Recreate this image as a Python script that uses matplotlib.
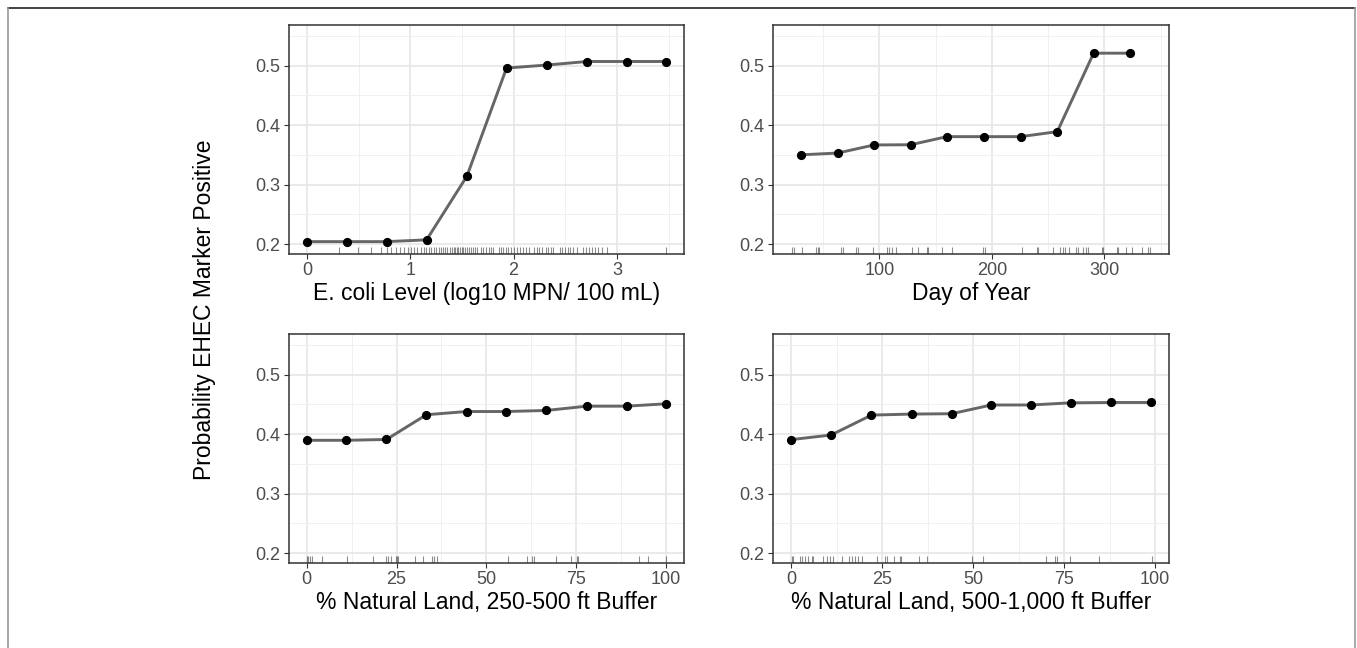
import matplotlib
matplotlib.use("Agg")
import matplotlib.pyplot as plt
from matplotlib.lines import Line2D
from matplotlib.ticker import FixedLocator, FormatStrFormatter

plt.rcParams['font.family'] = ['Liberation Sans', 'DejaVu Sans']

# ---------------- data ----------------
ecoli_x = [0.0, 0.384, 0.771, 1.158, 1.548, 1.932, 2.319, 2.71, 3.097, 3.477]
ecoli_y = [0.204, 0.204, 0.204, 0.207, 0.314, 0.496, 0.501, 0.507, 0.507, 0.507]
ecoli_rug = [0.306, 0.493, 0.622, 0.719, 0.774, 0.816, 0.861, 0.903, 0.942, 0.977,
             1.01, 1.04, 1.07, 1.10, 1.13, 1.15, 1.18, 1.20, 1.23, 1.25, 1.28, 1.30,
             1.32, 1.34, 1.36, 1.38, 1.40, 1.42, 1.43, 1.45, 1.46, 1.48, 1.50, 1.51,
             1.53, 1.55, 1.57, 1.59, 1.61, 1.63, 1.65, 1.68, 1.70, 1.73, 1.76, 1.78,
             1.80, 1.86, 1.88, 1.90, 1.93, 1.95, 1.98, 2.00, 2.03, 2.06, 2.09, 2.12,
             2.15, 2.20, 2.23, 2.25, 2.28, 2.31, 2.33, 2.36, 2.38, 2.45, 2.47, 2.50,
             2.53, 2.55, 2.58, 2.61, 2.67, 2.70, 2.73, 2.76, 2.79, 2.82, 2.86, 2.90,
             3.48]

day_x = [30.1, 63.0, 95.3, 127.9, 160.1, 193.3, 225.6, 258.2, 290.5, 323.1]
day_y = [0.350, 0.353, 0.3666, 0.367, 0.3806, 0.3806, 0.3806, 0.389, 0.521, 0.521]
day_rug = [22.1, 24.2, 31.0, 43.5, 45.2, 46.7, 65.7, 67.5, 79.3, 81.3, 94.1, 106.5,
           108.6, 111.0, 114.8, 128.8, 134.7, 142.1, 143.6, 155.5, 164.3, 192.4,
           193.9, 226.6, 239.9, 241.4, 254.1, 260.6, 263.0, 265.1, 268.9, 274.8,
           276.9, 281.3, 283.7, 285.2, 297.7, 299.1, 311.0, 312.4, 319.3, 324.3,
           333.2, 338.6, 340.6]

nat250_x = [0.0, 11.04, 22.2, 33.3, 44.5, 55.5, 66.7, 77.9, 89.0, 100.0]
nat250_y = [0.3896, 0.3896, 0.391, 0.4326, 0.438, 0.438, 0.4398, 0.447, 0.447, 0.451]
nat250_rug = [0.0, 0.46, 0.93, 1.39, 4.2, 11.3, 18.5, 22.0, 22.7, 23.5, 24.9, 25.2,
              25.5, 30.0, 32.3, 34.8, 35.5, 36.2, 56.1, 61.2, 62.8, 63.3, 69.3,
              73.6, 75.1, 75.6, 92.6, 94.9, 100.0]

nat500_x = [0.0, 11.0, 22.1, 33.1, 44.1, 55.0, 65.9, 76.8, 87.8, 98.9]
nat500_y = [0.3907, 0.3985, 0.432, 0.4337, 0.4343, 0.449, 0.449, 0.4526, 0.4532, 0.4532]
nat500_rug = [0.18, 0.64, 2.47, 3.1, 3.85, 4.58, 5.68, 6.1, 8.9, 9.8, 10.7, 11.6,
              13.9, 15.9, 16.7, 17.6, 18.5, 19.4, 23.5, 25.8, 26.3, 28.3, 29.8,
              30.2, 35.2, 37.3, 49.6, 52.6, 70.1, 72.5, 73.0, 76.6, 84.7, 99.1]

x_titles = ["E. coli Level (log10 MPN/ 100 mL)", "Day of Year",
            "% Natural Land, 250-500 ft Buffer", "% Natural Land, 500-1,000 ft Buffer"]
y_title = "Probability EHEC Marker Positive"

y_ticks = [0.2, 0.3, 0.4, 0.5]
y_minor = [0.25, 0.35, 0.45, 0.55]

# ---------------- figure ----------------
W, H = 1357, 648
fig = plt.figure(figsize=(W / 100, H / 100), dpi=100)

def rect(x0, x1, ytop, ybot):
    return [x0 / W, 1 - ybot / H, (x1 - x0) / W, (ybot - ytop) / H]

panels = [
    dict(pos=rect(289, 684, 25, 254), x=ecoli_x, y=ecoli_y, rug=ecoli_rug,
         xlim=(-0.174, 3.65), xt=[0, 1, 2, 3], xm=[0.5, 1.5, 2.5, 3.5]),
    dict(pos=rect(773, 1169, 25, 254), x=day_x, y=day_y, rug=day_rug,
         xlim=(5.5, 357.5), xt=[100, 200, 300], xm=[50, 150, 250, 350]),
    dict(pos=rect(289, 684, 334, 563), x=nat250_x, y=nat250_y, rug=nat250_rug,
         xlim=(-4.93, 105.0), xt=[0, 25, 50, 75, 100], xm=[12.5, 37.5, 62.5, 87.5]),
    dict(pos=rect(773, 1169, 334, 563), x=nat500_x, y=nat500_y, rug=nat500_rug,
         xlim=(-4.95, 103.8), xt=[0, 25, 50, 75, 100], xm=[12.5, 37.5, 62.5, 87.5]),
]

for p, title in zip(panels, x_titles):
    ax = fig.add_axes(p['pos'])
    ax.set_xlim(*p['xlim'])
    ax.set_ylim(0.1832, 0.5684)
    for v in p['xt']:
        ax.axvline(v, color='#E6E6E6', lw=1.2, zorder=0)
    for v in p['xm']:
        ax.axvline(v, color='#F0F0F0', lw=0.7, zorder=0)
    for v in y_ticks:
        ax.axhline(v, color='#E6E6E6', lw=1.2, zorder=0)
    for v in y_minor:
        ax.axhline(v, color='#F0F0F0', lw=0.7, zorder=0)
    ax.vlines(p['rug'], 0, 0.03, transform=ax.get_xaxis_transform(),
              color='black', alpha=0.45, lw=0.8, zorder=1)
    ax.plot(p['x'], p['y'], color='#666666', lw=2.1, zorder=2)
    ax.plot(p['x'], p['y'], 'o', color='black', ms=5.6, zorder=3)
    ax.xaxis.set_major_locator(FixedLocator(p['xt']))
    ax.yaxis.set_major_locator(FixedLocator(y_ticks))
    ax.yaxis.set_major_formatter(FormatStrFormatter('%.1f'))
    ax.tick_params(axis='both', which='major', direction='out', length=3.5, width=0.8,
                   color='#333333', labelcolor='#4D4D4D', labelsize=13, pad=2.5)
    for s in ax.spines.values():
        s.set_color('#333333')
        s.set_linewidth(1.1)
    ax.set_xlabel(title, fontsize=16.5, color='black', labelpad=2)

fig.text(205 / W, 1 - 310 / H, y_title, rotation=90, fontsize=16.5,
         ha='center', va='center', color='black')

# outer frame
fig.add_artist(Line2D([7.5 / W, 1355 / W], [1 - 8 / H, 1 - 8 / H],
                      transform=fig.transFigure, color='#222222', lw=1.2))
fig.add_artist(Line2D([7.5 / W, 7.5 / W], [1 - 8 / H, 0],
                      transform=fig.transFigure, color='#999999', lw=1.2))
fig.add_artist(Line2D([1355 / W, 1355 / W], [1 - 8 / H, 0],
                      transform=fig.transFigure, color='#999999', lw=1.2))

fig.savefig("out.png", dpi=100)
